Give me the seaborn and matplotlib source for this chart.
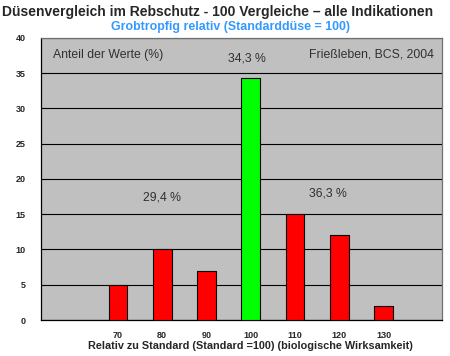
import matplotlib
matplotlib.use("Agg")
import matplotlib.pyplot as plt
import numpy as np
import pandas as pd
import seaborn as sns

# Werte
kategorien = ["70", "80", "90", "100", "110", "120", "130"]
anteile = [5.0, 10.0, 7.0, 34.3, 15.0, 12.0, 2.0]
farben = ["#FF0000", "#FF0000", "#FF0000", "#00FF00", "#FF0000", "#FF0000", "#FF0000"]
y_ticks = [0, 5, 10, 15, 20, 25, 30, 35, 40]
gruppen_texte = ["29,4 %", "34,3 %", "36,3 %"]

sns.set_style("white")
plt.rcParams["font.family"] = ["Liberation Sans", "DejaVu Sans"]

df = pd.DataFrame({"kategorie": kategorien, "anteil": anteile})

fig = plt.figure(figsize=(4.5, 3.56), dpi=100)
ax = fig.add_axes([0.092, 0.101, 0.89, 0.793])
ax.set_facecolor("#C0C0C0")

sns.barplot(
    data=df,
    x="kategorie",
    y="anteil",
    hue="kategorie",
    palette=dict(zip(kategorien, farben)),
    saturation=1,
    legend=False,
    width=0.42,
    edgecolor="black",
    linewidth=0.8,
    ax=ax,
    zorder=3,
)

ax.set_xlim(-1.73, 7.32)
ax.set_ylim(0, 40)
ax.set_yticks(y_ticks)
ax.set_yticklabels([str(t) for t in y_ticks], fontsize=6.5, fontweight="bold")
ax.yaxis.grid(True, color="black", linewidth=0.8, zorder=1)
ax.set_axisbelow(True)

ax.set_xticks(range(len(kategorien)))
ax.set_xticklabels(kategorien, fontsize=6.5, fontweight="bold")
ax.set_xticks(list(np.arange(-0.5, 6, 1.0)) + [7.32], minor=True)
ax.tick_params(axis="x", which="major", length=0, pad=8)
ax.tick_params(axis="x", which="minor", length=3.5, width=0.8, direction="out", color="black")
ax.tick_params(axis="y", length=3.5, width=0.8, direction="out", color="black", pad=8)

for side in ["left", "bottom"]:
    ax.spines[side].set_color("black")
    ax.spines[side].set_linewidth(0.9)
for side in ["top", "right"]:
    ax.spines[side].set_color("#707070")
    ax.spines[side].set_linewidth(0.9)

ax.set_xlabel("Relativ zu Standard (Standard =100) (biologische Wirksamkeit)",
              fontsize=7.8, fontweight="bold", labelpad=0.5)
ax.xaxis.label.set_x(0.522)
ax.set_ylabel("")

grau = "#303030"
ax.text(0.028, 0.94, "Anteil der Werte (%)", transform=ax.transAxes,
        fontsize=8.8, color=grau, ha="left", va="center")
ax.text(0.98, 0.94, "Frießleben, BCS, 2004", transform=ax.transAxes,
        fontsize=8.8, color=grau, ha="right", va="center")
ax.text(1.0, 17.3, gruppen_texte[0], fontsize=8.8, color=grau,
        ha="center", va="center")
ax.text(2.92, 37.0, gruppen_texte[1], fontsize=8.8, color=grau,
        ha="center", va="center")
ax.text(4.75, 17.9, gruppen_texte[2], fontsize=8.8, color=grau,
        ha="center", va="center")

fig.text(0.483, 0.966, "Düsenvergleich im Rebschutz - 100 Vergleiche – alle Indikationen",
         fontsize=10, fontweight="bold", ha="center", va="center")
fig.text(0.512, 0.924, "Grobtropfig relativ (Standarddüse = 100)",
         fontsize=8.9, fontweight="bold", color="#3399FF", ha="center", va="center")

fig.savefig("out.png", dpi=100)
